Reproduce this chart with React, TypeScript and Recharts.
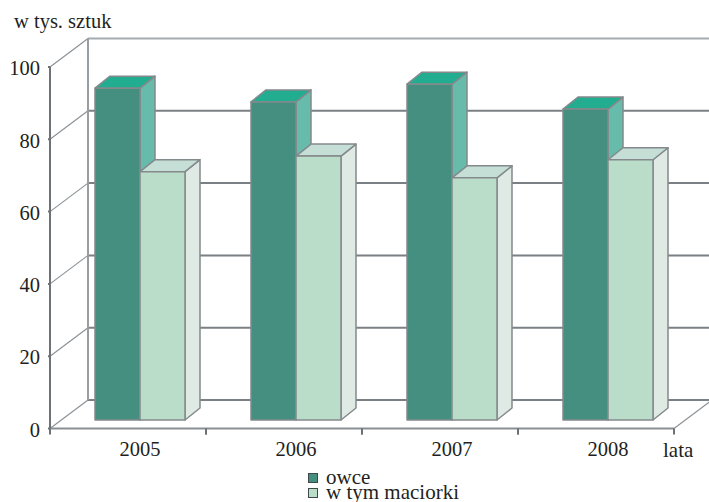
import React from 'react';
import { BarChart, Bar, XAxis, YAxis, CartesianGrid, Legend, Customized } from 'recharts';

const years = ['2005', '2006', '2007', '2008'];
const owce = [91.8, 88, 92.9, 86];
const maciorki = [68.7, 73, 67, 72];
const yTicks = [0, 20, 40, 60, 80, 100];
const yAxisTitle = 'w tys. sztuk';
const xAxisTitle = 'lata';

const data = years.map((year, i) => ({ year, owce: owce[i], maciorki: maciorki[i] }));

const FONT = '"Liberation Serif", "Times New Roman", serif';
const TEXT = '#231f20';
const AXIS = '#6d7277';
const EDGE = '#84898c';
const WALL_DX = 38;
const WALL_DY = 28.5;
const BAR_SHIFT_X = 12;
const BAR_SHIFT_Y = 8.5;
const BOX_DX = 15;
const BOX_DY = 12;

const makeBox = (front: string, top: string, side: string) => (props: any) => {
  const x = props.x + BAR_SHIFT_X;
  const y = props.y - BAR_SHIFT_Y;
  const w = props.width;
  const h = props.height;
  const pts = (p: number[][]) => p.map((q) => q.join(',')).join(' ');
  return (
    <g stroke={EDGE} strokeWidth={1.5} strokeLinejoin="round">
      <polygon fill={side} points={pts([[x + w, y], [x + w + BOX_DX, y - BOX_DY], [x + w + BOX_DX, y + h - BOX_DY], [x + w, y + h]])} />
      <polygon fill={top} points={pts([[x, y], [x + BOX_DX, y - BOX_DY], [x + w + BOX_DX, y - BOX_DY], [x + w, y]])} />
      <rect fill={front} x={x} y={y} width={w} height={h} />
    </g>
  );
};

const wallLine = (props: any) => {
  const { x1, y1, x2, index, y, height } = props;
  const isTop = Math.abs(y1 - y) < 1;
  const isBottom = Math.abs(y1 - (y + height)) < 1;
  const bx = x1 + WALL_DX;
  const by = y1 - WALL_DY;
  return (
    <g key={`wall-${index}`}>
      <line x1={x1} y1={y1} x2={bx} y2={by} stroke="#8b9094" strokeWidth={1.1} />
      <line x1={bx} y1={by} x2={x2 + WALL_DX} y2={by} stroke={isTop ? '#a6abb0' : '#7b8084'} strokeWidth={2} />
      {isTop && <line x1={bx} y1={by} x2={bx} y2={y + height - WALL_DY} stroke="#989da2" strokeWidth={2} />}
      {isBottom && <line x1={x2} y1={y1} x2={x2 + WALL_DX} y2={by} stroke="#8b9094" strokeWidth={1.1} />}
    </g>
  );
};

const CategoryTick = (props: any) => {
  const { x, y, payload } = props;
  return (
    <g>
      <line x1={x - 78} y1={y} x2={x - 78} y2={y + 6} stroke={AXIS} strokeWidth={2} />
      <line x1={x + 78} y1={y} x2={x + 78} y2={y + 6} stroke={AXIS} strokeWidth={2} />
      <text x={x + BAR_SHIFT_X} y={y + 27} textAnchor="middle" fontFamily={FONT} fontSize={20.5} fill={TEXT}>
        {payload.value}
      </text>
    </g>
  );
};

const LegendContent = (props: any) => (
  <div style={{ fontFamily: FONT, fontSize: 21, color: TEXT, lineHeight: '15px' }}>
    {(props.payload || []).map((item: any) => (
      <div key={item.value} style={{ display: 'flex', alignItems: 'center', height: 15 }}>
        <span style={{ width: 8, height: 8, background: item.color, border: `1px solid #3f4a48`, marginRight: 8, flex: 'none' }} />
        <span style={{ whiteSpace: 'nowrap' }}>{item.value}</span>
      </div>
    ))}
  </div>
);

const Titles = () => (
  <g fontFamily={FONT} fontSize={21} fill={TEXT}>
    <text x={14} y={28} fontSize={20.5}>{yAxisTitle}</text>
    <text x={663} y={457}>{xAxisTitle}</text>
  </g>
);

export default function App() {
  return (
    <div style={{ position: 'absolute', left: 0, top: 0, width: 709, height: 502, background: '#fff', overflow: 'hidden' }}>
      <BarChart
        width={709}
        height={502}
        data={data}
        margin={{ top: 67, right: 35, bottom: 43.5, left: 0 }}
        barSize={45}
        barGap={0}
      >
        <CartesianGrid vertical={false} horizontal={wallLine as any} stroke="#7b8084" />
        <XAxis
          dataKey="year"
          height={30}
          interval={0}
          tickLine={false}
          tickSize={0}
          tickMargin={0}
          axisLine={{ stroke: '#8a8f93', strokeWidth: 2 }}
          tick={<CategoryTick />}
        />
        <YAxis
          width={50}
          domain={[0, 100]}
          ticks={yTicks}
          interval={0}
          tickSize={2}
          tickMargin={8}
          axisLine={{ stroke: AXIS, strokeWidth: 2 }}
          tickLine={{ stroke: AXIS, strokeWidth: 2 }}
          tick={{ fontFamily: FONT, fontSize: 20.5, fill: TEXT, dy: 1 }}
        />
        <Bar dataKey="owce" name="owce" fill="#458f80" isAnimationActive={false} shape={makeBox('#458f80', '#22ad90', '#66bbab')} />
        <Bar dataKey="maciorki" name="w tym maciorki" fill="#b9ddc9" isAnimationActive={false} shape={makeBox('#b9ddc9', '#c5dfd6', '#dfeae4')} />
        <Legend
          verticalAlign="middle"
          layout="horizontal"
          wrapperStyle={{ left: 308, top: 470, width: 200, height: 30 }}
          content={<LegendContent />}
        />
        <Customized component={Titles} />
      </BarChart>
    </div>
  );
}
